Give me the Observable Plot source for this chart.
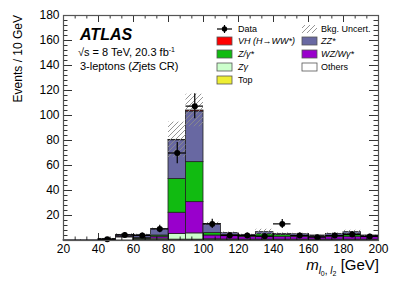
<!DOCTYPE html>
<html><head><meta charset="utf-8">
<script src="https://cdn.jsdelivr.net/npm/d3@7"></script>
<script src="https://cdn.jsdelivr.net/npm/@observablehq/plot@0.6"></script>
<style>body{margin:0;background:#fff}#c{width:399px;height:286px}</style>
</head><body><div id="c"></div>
<script>
// ---- data (bins of 10 GeV, lower edges) ----
const binLow  = [20,30,40,50,60,70,80,90,100,110,120,130,140,150,160,170,180,190];
const others  = [0,0,0.3,2.5,0.3,0.3,0.5,0.5,0.3,0.3,0.3,0.3,0.3,0.3,0.3,0.3,0.3,0.3];
const top_    = [0,0,0,0,0.2,0.2,0.2,0.2,0.2,0.2,0.2,0.2,0.2,0.2,0.2,0.2,0.2,0.2];
const zgamma  = [0,0,0.2,0.5,0.5,1,4.5,5,0.5,0.3,0.2,0.2,0.2,0.2,0.2,0.2,0.2,0.2];
const wz      = [0,0,0.3,0.3,0.5,1.5,17,25,3,3,2.3,2.3,2.3,2.3,2.3,2.3,2.3,2.3];
const zjets   = [0,0,0,0,0.5,1,27,32,2,0.7,0.5,2,1.5,0.5,0.3,0.5,2,0.3];
const zz      = [0.2,0.2,0.5,1.2,2.5,5,31,40.5,7,1.5,1,1.7,0.8,1.5,0.7,1.8,1.7,0.7];
const vh      = [0,0,0,0,0,0,0.3,0.8,0.1,0,0,0,0,0,0,0,0,0];
const bkgUnc  = [0,0,0.3,1,0.5,1,14.2,13,1.5,0.8,0.5,2.3,0.8,0.8,0.5,0.8,1.5,0.5];
const dataY   = [null,null,1,4.5,4,9.3,70,107.5,13.3,4,4,3.5,13.3,4,2.7,4,4.8,3.2];
const dataErr = [0,0,1,2,2,3,8.5,10,3.7,2,2,1.9,3.6,2,1.6,2,2.2,1.8];
const yTicks  = [20,40,60,80,100,120,140,160,180];
const xTicks  = [20,40,60,80,100,120,140,160,180,200];
const binW = 10;

// ---- styles ----
const seriesDefs = [
  {v: others, c: "#ffffff"},
  {v: top_,   c: "#eeee33"},
  {v: zgamma, c: "#ccffcc"},
  {v: wz,     c: "#9900cc"},
  {v: zjets,  c: "#11bb11"},
  {v: zz,     c: "#6868a2"},
  {v: vh,     c: "#ff0000"}
];

const stackRows = [];
const totals = binLow.map(() => 0);
for (const s of seriesDefs) {
  binLow.forEach((b, i) => {
    const v = s.v[i];
    if (v > 0) stackRows.push({x1: b, x2: b + binW, y1: totals[i], y2: totals[i] + v, color: s.c});
    totals[i] += v;
  });
}
const uncRows = binLow.map((b, i) => ({x1: b, x2: b + binW, lo: Math.max(0, totals[i] - bkgUnc[i]), hi: totals[i] + bkgUnc[i]})).filter(d => d.hi - d.lo > 0);
const dataRows = binLow.map((b, i) => ({lo: b, hi: b + binW, c: b + binW / 2, y: dataY[i], e: dataErr[i]})).filter(d => d.y != null);

const yMinor = d3.range(0, 181, 4);
const xMinor = d3.range(20, 201, 20 / 3);
const xs = 180 / 315, ys = 180 / 225; // data units per pixel

const plot = Plot.plot({
  width: 399, height: 286,
  marginLeft: 63, marginRight: 21, marginTop: 15, marginBottom: 46,
  x: {domain: [20, 200], axis: null},
  y: {domain: [0, 180], axis: null},
  style: {fontFamily: "'Liberation Sans', Arial, sans-serif", fontSize: "12px", color: "#000"},
  marks: [
    Plot.rect(stackRows, {x1: "x1", x2: "x2", y1: "y1", y2: "y2", fill: "color", stroke: "#222", strokeWidth: 0.8}),
    Plot.rect(uncRows, {x1: "x1", x2: "x2", y1: "lo", y2: "hi", fill: "url(#hatch)"}),
    Plot.ruleY(dataRows, {x1: "lo", x2: "hi", y: "y", stroke: "#000", strokeWidth: 1.2}),
    Plot.ruleX(dataRows, {x: "c", y1: d => Math.max(0, d.y - d.e), y2: d => d.y + d.e, stroke: "#000", strokeWidth: 1.2}),
    Plot.dot(dataRows, {x: "c", y: "y", r: 3, fill: "#000"}),
    // inner ticks: y
    Plot.ruleY(yMinor, {y: d => d, x1: 20, x2: d => 20 + (d % 20 === 0 ? 9 : 4.5) * xs, stroke: "#000", strokeWidth: 0.8}),
    Plot.ruleY(yMinor, {y: d => d, x1: d => 200 - (d % 20 === 0 ? 9 : 4.5) * xs, x2: 200, stroke: "#000", strokeWidth: 0.8}),
    // inner ticks: x
    Plot.ruleX(xMinor, {x: d => d, y1: 0, y2: (d, i) => (i % 3 === 0 ? 7 : 3.5) * ys, stroke: "#000", strokeWidth: 0.8}),
    Plot.ruleX(xMinor, {x: d => d, y1: (d, i) => 180 - (i % 3 === 0 ? 7 : 3.5) * ys, y2: 180, stroke: "#000", strokeWidth: 0.8}),
    Plot.frame({stroke: "#555", strokeWidth: 1.2}),
    Plot.axisY(yTicks, {tickSize: 0, tickPadding: 4, label: null, fontSize: 12}),
    Plot.axisX(xTicks, {tickSize: 0, tickPadding: 4, label: null, fontSize: 12})
  ]
});
document.getElementById("c").appendChild(plot);

const svg = d3.select(plot);
const defs = svg.insert("defs", ":first-child");
const pat = defs.append("pattern").attr("id", "hatch").attr("patternUnits", "userSpaceOnUse").attr("width", 5).attr("height", 5);
pat.append("path").attr("d", "M-1,1 l2,-2 M0,5 l5,-5 M4,6 l2,-2").attr("stroke", "#8a8a8a").attr("stroke-width", 0.9);

const F = "'Liberation Sans', Arial, sans-serif";
function txt(x, y, size, opts = {}) {
  return svg.append("text").attr("x", x).attr("y", y).attr("font-size", size).attr("font-family", F)
    .attr("font-style", opts.italic ? "italic" : null).attr("font-weight", opts.bold ? "bold" : null)
    .attr("text-anchor", opts.anchor || "start").attr("fill", "#000");
}
// ATLAS label
txt(80, 40, 16, {bold: true, italic: true}).text("ATLAS");
const t2 = txt(78, 56, 11);
t2.append("tspan").text("√s = 8 TeV, 20.3 fb");
t2.append("tspan").attr("font-size", 7).attr("dy", -4).text("-1");
const t3 = txt(80, 70, 11);
t3.append("tspan").text("3-leptons (");
t3.append("tspan").attr("font-style", "italic").text("Z");
t3.append("tspan").text("jets CR)");

// legend
const L = [
  {col: 0, row: 0, kind: "data", label: [["Data"]]},
  {col: 0, row: 1, kind: "box", c: "#ff0000", label: [["VH (H→WW*)", true]]},
  {col: 0, row: 2, kind: "box", c: "#11bb11", label: [["Z/γ*", true]]},
  {col: 0, row: 3, kind: "box", c: "#ccffcc", label: [["Zγ", true]]},
  {col: 0, row: 4, kind: "box", c: "#eeee33", label: [["Top"]]},
  {col: 1, row: 0, kind: "hatch", label: [["Bkg. Uncert."]]},
  {col: 1, row: 1, kind: "box", c: "#6868a2", label: [["ZZ*", true]]},
  {col: 1, row: 2, kind: "box", c: "#9900cc", label: [["WZ/Wγ*", true]]},
  {col: 1, row: 3, kind: "box", c: "#ffffff", label: [["Others"]]}
];
const colX = [217, 302], rowY = [29, 41, 54, 67, 80];
for (const e of L) {
  const x = colX[e.col], y = rowY[e.row];
  if (e.kind === "data") {
    svg.append("line").attr("x1", x).attr("x2", x + 15).attr("y1", y).attr("y2", y).attr("stroke", "#000").attr("stroke-width", 1.2);
    svg.append("line").attr("x1", x + 7.5).attr("x2", x + 7.5).attr("y1", y - 4).attr("y2", y + 4).attr("stroke", "#000").attr("stroke-width", 1.2);
    svg.append("circle").attr("cx", x + 7.5).attr("cy", y).attr("r", 2.7).attr("fill", "#000");
  } else if (e.kind === "hatch") {
    svg.append("rect").attr("x", x).attr("y", y - 4).attr("width", 15).attr("height", 8).attr("fill", "url(#hatch)");
  } else {
    svg.append("rect").attr("x", x).attr("y", y - 4).attr("width", 15).attr("height", 8).attr("fill", e.c).attr("stroke", "#555").attr("stroke-width", 0.8);
  }
  const t = txt(x + (e.col ? 19 : 21), y + 3.3, 9);
  for (const [s, it] of e.label) t.append("tspan").attr("font-style", it ? "italic" : null).text(s);
}

// axis titles
svg.append("text").attr("transform", "translate(22,15) rotate(-90)").attr("text-anchor", "end")
  .attr("font-family", F).attr("font-size", 12).text("Events / 10 GeV");
const xt = txt(379, 270, 15, {anchor: "end"});
xt.append("tspan").attr("font-style", "italic").text("m");
xt.append("tspan").attr("font-style", "italic").attr("font-size", 10).attr("dy", 4).text("l");
xt.append("tspan").attr("font-size", 7).attr("dy", 2).text("0");
xt.append("tspan").attr("font-size", 10).attr("dy", -2).text(", ");
xt.append("tspan").attr("font-style", "italic").attr("font-size", 10).text("l");
xt.append("tspan").attr("font-size", 7).attr("dy", 2).text("2");
xt.append("tspan").attr("dy", -6).text(" [GeV]");
</script>
</body></html>
